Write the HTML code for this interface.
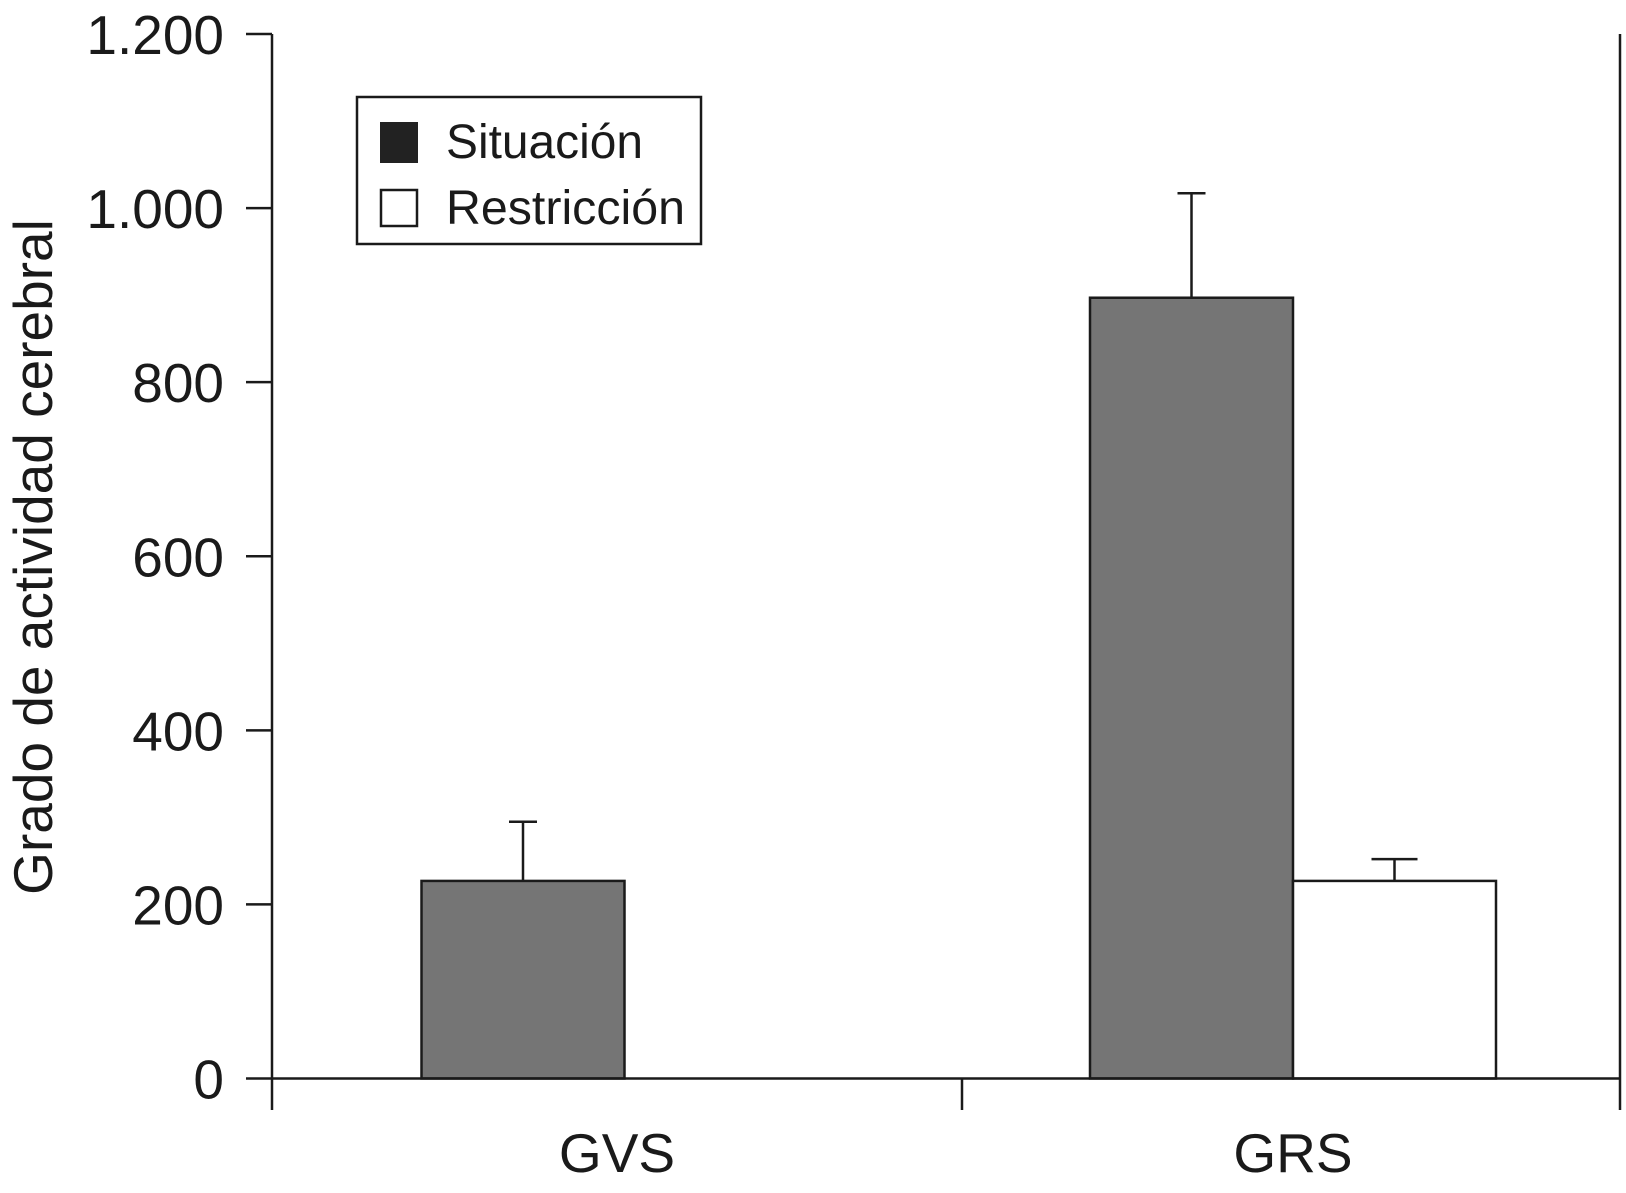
<!DOCTYPE html>
<html><head><meta charset="utf-8"><style>
html,body{margin:0;padding:0;background:#fff}
svg{display:block}
text{font-family:"Liberation Sans",Arial,sans-serif;fill:#1a1a1a}
</style></head><body>
<svg id="chart" width="1626" height="1193" viewBox="0 0 1626 1193" xmlns="http://www.w3.org/2000/svg">
<g id="bars"></g>
<g id="axes"></g>
<g>
  <rect x="357" y="97" width="344" height="147" fill="#fff" stroke="#1a1a1a" stroke-width="2.5"/>
  <rect x="380" y="122" width="38" height="41" fill="#222"/>
  <text x="446" y="158" font-size="48" textLength="197" lengthAdjust="spacingAndGlyphs">Situación</text>
  <rect x="381" y="190" width="36" height="36" fill="#fff" stroke="#1a1a1a" stroke-width="2.5"/>
  <text x="446" y="224" font-size="48" textLength="239" lengthAdjust="spacingAndGlyphs">Restricción</text>
</g>
<text transform="translate(52,557) rotate(-90)" text-anchor="middle" font-size="55">Grado de actividad cerebral</text>
</svg>
<script>
const categories=["GVS","GRS"];
const situacion=[227,897];
const situacionErr=[295,1017];
const restriccion=[null,227];
const restriccionErr=[null,252];
const yTicks=[0,200,400,600,800,1000,1200];
const yTickLabels=["0","200","400","600","800","1.000","1.200"];

const NS="http://www.w3.org/2000/svg";
const L=272,R=1620,T=34,B=1078.5;
const y=v=>B-(v/1200)*(B-T);
const catCenter=[523,1293];
const barW=203;
function mk(tag,attrs,parent){const e=document.createElementNS(NS,tag);for(const k in attrs)e.setAttribute(k,attrs[k]);parent.appendChild(e);return e;}
const bars=document.getElementById('bars'),axes=document.getElementById('axes');
categories.forEach((c,i)=>{
  let x0;
  if(restriccion[i]==null){x0=catCenter[i]-barW/2;}else{x0=catCenter[i]-barW;}
  const e1=mk('path',{d:`M${x0+barW/2},${y(situacion[i])}V${y(situacionErr[i])}M${x0+barW/2-14},${y(situacionErr[i])}H${x0+barW/2+14}`,stroke:'#1a1a1a','stroke-width':2.5,fill:'none'},bars);
  
  
  const b1=mk('rect',{x:x0,y:y(situacion[i]),width:barW,height:B-y(situacion[i]),fill:'#757575',stroke:'#1a1a1a','stroke-width':2.5},bars);
  
  
  if(restriccion[i]!=null){
    const x1=catCenter[i];
    const e2=mk('path',{d:`M${x1+barW/2},${y(restriccion[i])}V${y(restriccionErr[i])}M${x1+barW/2-23},${y(restriccionErr[i])}H${x1+barW/2+23}`,stroke:'#1a1a1a','stroke-width':2.5,fill:'none'},bars);
    
    
    const b2=mk('rect',{x:x1,y:y(restriccion[i]),width:barW,height:B-y(restriccion[i]),fill:'#fff',stroke:'#1a1a1a','stroke-width':2.5},bars);
    
    
  }
  const t=mk('text',{x:catCenter[i]-(restriccion[i]==null?-94:0),y:1172,'text-anchor':'middle','font-size':55},axes);
  t.textContent=c;
  
  
});
const frame=mk('path',{d:`M${L},${T}V${B}H${R}V${T}M${L},${B}V1110M962,${B}V1110M${R},${B}V1110`,stroke:'#1a1a1a','stroke-width':2.5,fill:'none'},axes);


yTicks.forEach((v,i)=>{
  const tk=mk('line',{x1:246,x2:L,y1:y(v),y2:y(v),stroke:'#1a1a1a','stroke-width':2.5},axes);
  
  
  const tl=mk('text',{x:224,y:y(v)+20,'text-anchor':'end','font-size':55},axes);
  tl.textContent=yTickLabels[i];
  
  
});
</script>
</body></html>
